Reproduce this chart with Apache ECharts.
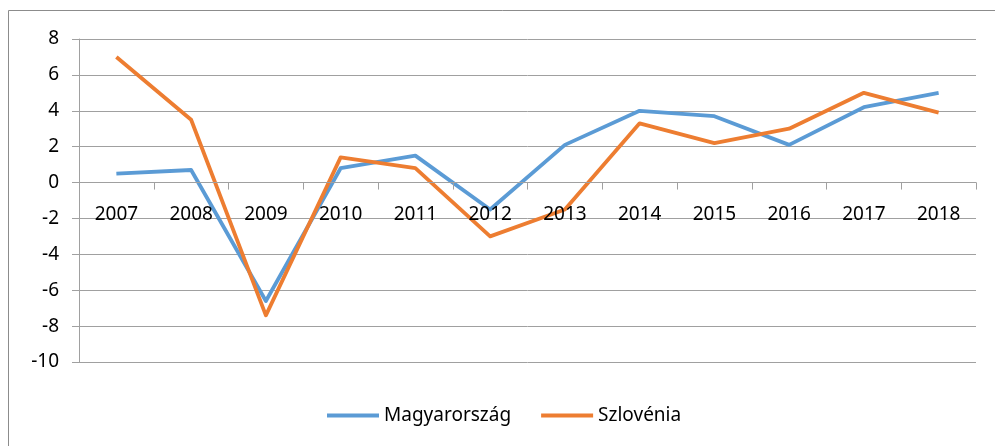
<!DOCTYPE html>
<html>
<head>
<meta charset="utf-8">
<script src="https://cdn.jsdelivr.net/npm/echarts@6/dist/echarts.min.js"></script>
<style>
  html, body { margin: 0; padding: 0; background: #fff; }
  #chart { width: 995px; height: 446px; }
</style>
</head>
<body>
<div id="chart"></div>
<script>
// Annual GDP growth (%), 2007–2018
const years = ['2007', '2008', '2009', '2010', '2011', '2012', '2013', '2014', '2015', '2016', '2017', '2018'];
const magyarorszag = [0.5, 0.7, -6.6, 0.8, 1.5, -1.5, 2.1, 4.0, 3.7, 2.1, 4.2, 5.0];
const szlovenia = [7.0, 3.5, -7.4, 1.4, 0.8, -3.0, -1.5, 3.3, 2.2, 3.0, 5.0, 3.9];
const seriesNames = ['Magyarország', 'Szlovénia'];
const yTicks = { min: -10, max: 8, step: 2 };

const FONT = 'Noto Sans';
const GRID_COLOR = '#a0a0a0';
const LABEL_GAP = 23; // distance from the zero line to the year labels

const chart = echarts.init(document.getElementById('chart'), null, { renderer: 'canvas' });

chart.setOption({
  animation: false,
  backgroundColor: '#fff',
  graphic: [{
    type: 'rect',
    shape: { x: 8.5, y: 10.5, width: 1000, height: 450 },
    style: { fill: 'none', stroke: '#8c8c8c', lineWidth: 1 },
    silent: true
  }],
  grid: { left: 79, top: 39, right: 19, bottom: 84, containLabel: false },
  legend: {
    data: seriesNames,
    left: 322,
    top: 401,
    icon: 'rect',
    itemWidth: 52,
    itemHeight: 4,
    itemGap: 30,
    textStyle: { fontFamily: FONT, fontSize: 19, color: '#000' }
  },
  xAxis: {
    type: 'category',
    data: years,
    boundaryGap: true,
    z: 5, // year labels sit on top of the lines
    axisLine: { onZero: true, lineStyle: { color: GRID_COLOR, width: 1 } },
    axisTick: { show: true, length: 7, alignWithLabel: false, lineStyle: { color: GRID_COLOR } },
    axisLabel: { margin: LABEL_GAP, fontFamily: FONT, fontSize: 19, color: '#000', interval: 0 },
    splitLine: { show: false }
  },
  yAxis: {
    type: 'value',
    min: yTicks.min,
    max: yTicks.max,
    interval: yTicks.step,
    axisLine: { show: true, lineStyle: { color: GRID_COLOR, width: 1 } },
    axisTick: { show: true, length: 7, lineStyle: { color: GRID_COLOR } },
    axisLabel: { margin: 20, fontFamily: FONT, fontSize: 19, color: '#000' },
    splitLine: { show: true, lineStyle: { color: GRID_COLOR, width: 1 } }
  },
  series: [
    {
      name: seriesNames[0],
      type: 'line',
      data: magyarorszag,
      symbol: 'none',
      color: '#5b9bd5',
      lineStyle: { width: 3.8, color: '#5b9bd5', join: 'round' }
    },
    {
      name: seriesNames[1],
      type: 'line',
      data: szlovenia,
      symbol: 'none',
      color: '#ed7d31',
      lineStyle: { width: 3.8, color: '#ed7d31', join: 'round' }
    }
  ]
});

// Keep the year labels just under the zero line rather than at the grid bottom.
const zeroY = chart.convertToPixel({ yAxisIndex: 0 }, 0);
const bottomY = chart.convertToPixel({ yAxisIndex: 0 }, yTicks.min);
chart.setOption({
  xAxis: { axisLabel: { margin: LABEL_GAP - (bottomY - zeroY) } }
});
</script>
</body>
</html>
